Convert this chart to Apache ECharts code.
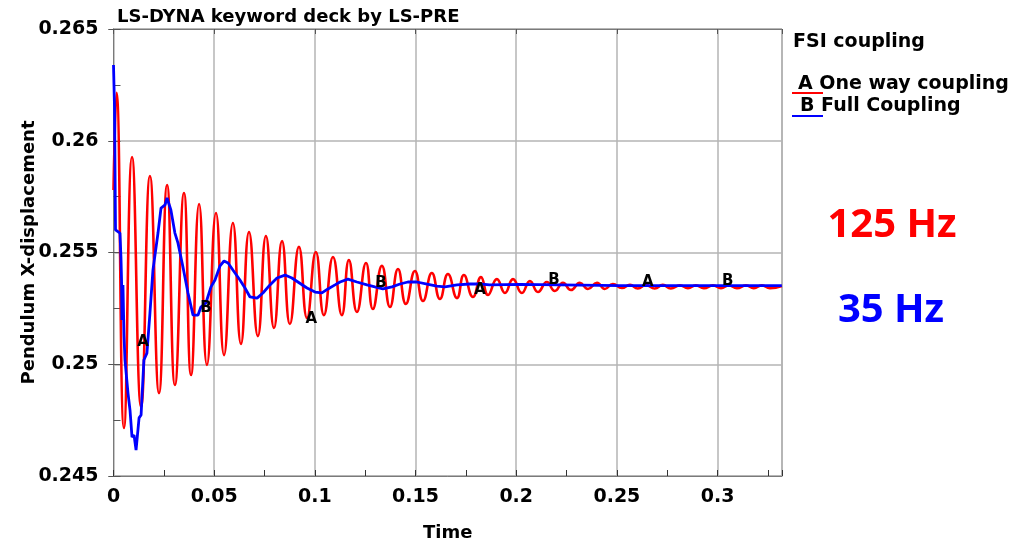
<!DOCTYPE html>
<html><head><meta charset="utf-8">
<script src="https://cdn.jsdelivr.net/npm/echarts@6/dist/echarts.min.js"></script>
<style>html,body{margin:0;padding:0;background:#fff}#c{width:1022px;height:543px}</style>
</head><body><div id="c"></div>
<script>
// ---- data ----
const redName = 'One way coupling';
const blueName = 'Full Coupling';
const redT = [0, 0.0015, 0.0052, 0.0092, 0.0137, 0.0181, 0.0226, 0.0266, 0.0305, 0.0350, 0.0385, 0.0425, 0.0464, 0.0509, 0.0549, 0.0593, 0.0633, 0.0673, 0.0717, 0.0757, 0.0797, 0.0837, 0.0876, 0.0921, 0.0961, 0.1005, 0.1045, 0.1090, 0.1134, 0.1169, 0.1209, 0.1254, 0.1288, 0.1333, 0.1373, 0.1413, 0.1452, 0.1497, 0.1537, 0.1581, 0.1621, 0.1661, 0.1706, 0.1740, 0.1785, 0.1825, 0.1860, 0.1904, 0.1944, 0.1984, 0.2028, 0.2068, 0.2108, 0.2152, 0.2192, 0.2232, 0.2272, 0.2316, 0.2356, 0.2401, 0.2440, 0.2480, 0.2525, 0.2565, 0.2604, 0.2644, 0.2688, 0.2728, 0.2768, 0.2813, 0.2853, 0.2892, 0.2932, 0.2977, 0.3017, 0.3056, 0.3096, 0.3141, 0.3180, 0.3220, 0.3260, 0.3319];
const redV = [0.2578, 0.26214, 0.24715, 0.25927, 0.24809, 0.25842, 0.24871, 0.25802, 0.24907, 0.25766, 0.24952, 0.25717, 0.24997, 0.25677, 0.25041, 0.25632, 0.25091, 0.25592, 0.25126, 0.25574, 0.25162, 0.25551, 0.25180, 0.25525, 0.25207, 0.25502, 0.25220, 0.25480, 0.25220, 0.25466, 0.25234, 0.25453, 0.25247, 0.25440, 0.25256, 0.25426, 0.25270, 0.25417, 0.25283, 0.25408, 0.25292, 0.25404, 0.25296, 0.25399, 0.25301, 0.25390, 0.25310, 0.25381, 0.25319, 0.25381, 0.25319, 0.25372, 0.25323, 0.25368, 0.25328, 0.25364, 0.25332, 0.25364, 0.25337, 0.25364, 0.25337, 0.25359, 0.25341, 0.25355, 0.25339, 0.25355, 0.25339, 0.25355, 0.25339, 0.25353, 0.25340, 0.25353, 0.25340, 0.25353, 0.25340, 0.25353, 0.25340, 0.25353, 0.25340, 0.25353, 0.25340, 0.25350];
const blueT = [0, 0.0005, 0.0010, 0.0032, 0.0037, 0.0040, 0.0042, 0.0047, 0.0052, 0.0057, 0.0072, 0.0082, 0.0092, 0.0102, 0.0112, 0.0127, 0.0137, 0.0151, 0.0166, 0.0181, 0.0196, 0.0221, 0.0236, 0.0256, 0.0266, 0.0285, 0.0305, 0.0320, 0.0345, 0.0370, 0.0395, 0.0420, 0.0434, 0.0459, 0.0484, 0.0504, 0.0529, 0.0549, 0.0569, 0.0593, 0.0628, 0.0653, 0.0678, 0.0713, 0.0742, 0.0777, 0.0812, 0.0852, 0.0886, 0.0916, 0.0961, 0.1001, 0.1035, 0.1065, 0.1100, 0.1125, 0.1164, 0.1209, 0.1259, 0.1298, 0.1338, 0.1383, 0.1423, 0.1462, 0.1507, 0.1557, 0.1606, 0.1646, 0.1706, 0.1770, 0.1820, 0.1869, 0.2018, 0.2217, 0.2515, 0.2912, 0.3319];
const blueV = [0.26339, 0.26151, 0.25601, 0.25587, 0.25480, 0.25377, 0.25198, 0.25355, 0.25131, 0.25019, 0.24871, 0.24795, 0.24674, 0.24683, 0.24616, 0.24760, 0.24773, 0.25019, 0.25050, 0.25229, 0.25422, 0.25587, 0.25699, 0.25713, 0.25744, 0.25690, 0.25587, 0.25543, 0.25435, 0.25319, 0.25220, 0.25220, 0.25256, 0.25274, 0.25346, 0.25377, 0.25440, 0.25462, 0.25453, 0.25422, 0.25377, 0.25341, 0.25301, 0.25296, 0.25319, 0.25355, 0.25386, 0.25399, 0.25386, 0.25368, 0.25341, 0.25323, 0.25319, 0.25337, 0.25355, 0.25368, 0.25381, 0.25368, 0.25355, 0.25346, 0.25337, 0.25346, 0.25359, 0.25368, 0.25368, 0.25359, 0.25350, 0.25346, 0.25355, 0.25359, 0.25359, 0.25355, 0.25357, 0.25355, 0.25352, 0.25352, 0.25352];
// curve letter markers (A = one way, B = full)
const markA_T = [0.01465, 0.0982, 0.1820, 0.2654];
const markA_V = [0.25100, 0.25202, 0.25332, 0.25368];
const markB_T = [0.0459, 0.1328, 0.2187, 0.3051];
const markB_V = [0.25252, 0.25364, 0.25377, 0.25372];
// axis ranges
const xMin = 0, xMax = 0.332, xMajor = 0.05, xMinor = 0.025;
const yMin = 0.245, yMax = 0.265, yMajor = 0.005, yMinor = 0.0025;

const RED = '#ff0000', BLUE = '#0000ff';
const FONT = 'DejaVu Sans';
const AXC = '#7a7a7a', GRIDC = '#b4b4b4';

const chart = echarts.init(document.getElementById('c'), null, {renderer: 'canvas'});
const zip = (a, b) => a.map((t, i) => [t, b[i]]);
const lblData = markA_T.map((t, i) => [t, markA_V[i], 'A']).concat(markB_T.map((t, i) => [t, markB_V[i], 'B']));

chart.setOption({
  animation: false,
  backgroundColor: '#fff',
  title: {
    text: 'LS-DYNA keyword deck by LS-PRE', left: 112, top: 3,
    textStyle: {fontFamily: FONT, fontWeight: 'bold', fontSize: 18, color: '#000'}
  },
  grid: {
    left: 113.5, top: 29, right: 240, bottom: 67, containLabel: false, outerBoundsMode: 'none',
    show: true, borderColor: AXC, borderWidth: 1, backgroundColor: 'transparent'
  },
  xAxis: [
    {
      type: 'value', position: 'bottom', min: xMin, max: xMax, interval: xMinor,
      axisLine: {show: true, lineStyle: {color: AXC, width: 1}},
      axisTick: {show: true, inside: true, length: 6, lineStyle: {color: '#333'}},
      axisLabel: {
        show: true, margin: 12, color: '#000', fontFamily: FONT, fontWeight: 'bold', fontSize: 19,
        formatter: v => (Math.round(v * 1000) % 50 === 0 && v < 0.31) ? String(+v.toFixed(2)) : ''
      },
      splitLine: {show: false},
      name: 'Time', nameLocation: 'middle', nameGap: 48, nameMoveOverlap: false,
      nameTextStyle: {fontFamily: FONT, fontWeight: 'bold', fontSize: 18, color: '#000'}
    },
    {
      type: 'value', position: 'bottom', min: xMin, max: xMax, interval: xMajor,
      axisLine: {show: false}, axisTick: {show: false}, axisLabel: {show: false},
      splitLine: {show: true, lineStyle: {color: GRIDC, width: 1.5}}
    },
    {
      type: 'value', position: 'top', min: xMin, max: xMax, interval: xMajor,
      axisLine: {show: true, lineStyle: {color: AXC}},
      axisTick: {show: true, inside: true, length: 5, lineStyle: {color: '#555'}},
      axisLabel: {show: false}, splitLine: {show: false}
    }
  ],
  yAxis: [
    {
      type: 'value', position: 'left', min: yMin, max: yMax, interval: yMajor,
      axisLine: {show: true, lineStyle: {color: AXC, width: 1}},
      axisTick: {show: true, inside: false, length: 5, lineStyle: {color: '#555'}},
      axisLabel: {
        show: true, margin: 15, color: '#000', fontFamily: FONT, fontWeight: 'bold', fontSize: 19,
        formatter: v => String(+v.toFixed(3))
      },
      splitLine: {show: true, lineStyle: {color: GRIDC, width: 1.5}},
      name: 'Pendulum X-displacement', nameLocation: 'middle', nameGap: 75, nameMoveOverlap: false,
      nameTextStyle: {fontFamily: FONT, fontWeight: 'bold', fontSize: 18, color: '#000'}
    },
    {
      type: 'value', position: 'left', min: yMin, max: yMax, interval: yMinor,
      axisLine: {show: false},
      axisTick: {show: true, inside: true, length: 7, lineStyle: {color: '#555'}},
      axisLabel: {show: false}, splitLine: {show: false}
    },
    {
      type: 'value', position: 'right', min: yMin, max: yMax, interval: yMajor,
      axisLine: {show: true, lineStyle: {color: AXC}},
      axisTick: {show: true, inside: true, length: 5, lineStyle: {color: '#555'}},
      axisLabel: {show: false}, splitLine: {show: false}
    }
  ],
  series: [
    {
      name: redName, type: 'line', xAxisIndex: 0, yAxisIndex: 0,
      data: zip(redT, redV), showSymbol: false, smooth: 0.5,
      lineStyle: {color: RED, width: 2.6}, itemStyle: {color: RED}, z: 3
    },
    {
      name: blueName, type: 'line', xAxisIndex: 0, yAxisIndex: 0,
      data: zip(blueT, blueV), showSymbol: false, smooth: false,
      lineStyle: {color: BLUE, width: 2.8}, itemStyle: {color: BLUE}, z: 4
    },
    {
      name: 'marks', type: 'scatter', xAxisIndex: 0, yAxisIndex: 0,
      data: lblData, symbolSize: 2, itemStyle: {color: 'rgba(0,0,0,0)', opacity: 1}, silent: true, z: 6,
      label: {
        show: true, position: 'inside', formatter: p => p.data[2],
        color: '#000', fontFamily: FONT, fontWeight: 'bold', fontSize: 15, textBorderWidth: 0
      }
    }
  ],
  graphic: [
    {type: 'text', left: 793, top: 33, style: {text: 'FSI coupling', fill: '#000', font: 'bold 19px "DejaVu Sans"'}},
    {type: 'line', shape: {x1: 792, y1: 93, x2: 823, y2: 93}, style: {stroke: RED, lineWidth: 2}},
    {type: 'text', left: 798, top: 75, style: {text: 'A One way coupling', fill: '#000', font: 'bold 19px "DejaVu Sans"'}},
    {type: 'line', shape: {x1: 792, y1: 116, x2: 823, y2: 116}, style: {stroke: BLUE, lineWidth: 2}},
    {type: 'text', left: 800, top: 97, style: {text: 'B Full Coupling', fill: '#000', font: 'bold 19px "DejaVu Sans"'}},
    {type: 'text', x: 892, y: 226, style: {text: '125 Hz', fill: RED, font: 'bold 40px "Open Sans"', align: 'center', verticalAlign: 'middle'}},
    {type: 'text', x: 891, y: 311, style: {text: '35 Hz', fill: BLUE, font: 'bold 40px "Open Sans"', align: 'center', verticalAlign: 'middle'}}
  ]
});
</script>
</body></html>
